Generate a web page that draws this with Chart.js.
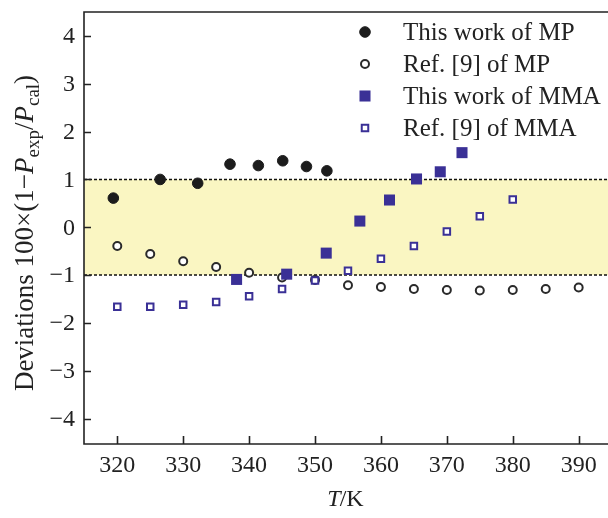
<!DOCTYPE html>
<html>
<head>
<meta charset="utf-8">
<script src="https://cdn.jsdelivr.net/npm/chart.js@4.4.1/dist/chart.umd.min.js"></script>
<style>
  html, body { margin: 0; padding: 0; background: #fff; }
  #wrap { width: 608px; height: 518px; position: relative; }
</style>
</head>
<body>
<div id="wrap"><canvas id="c" width="608" height="518"></canvas></div>
<script>
// ---- Data ----
const seriesLabels = ['This work of MP', 'Ref. [9] of MP', 'This work of MMA', 'Ref. [9] of MMA'];
const mpThisT   = [319.4, 326.5, 332.2, 337.1, 341.4, 345.1, 348.7, 351.8];
const mpThisDev = [0.61, 1.00, 0.92, 1.32, 1.29, 1.39, 1.27, 1.18];
const mpRefT    = [320, 325, 330, 335, 340, 345, 350, 355, 360, 365, 370, 375, 380, 385, 390];
const mpRefDev  = [-0.39, -0.56, -0.71, -0.83, -0.95, -1.05, -1.10, -1.21, -1.25, -1.29, -1.31, -1.32, -1.31, -1.29, -1.26];
const mmaThisT   = [338.1, 345.7, 351.7, 356.8, 361.3, 365.4, 369.0, 372.3];
const mmaThisDev = [-1.09, -0.98, -0.54, 0.13, 0.57, 1.01, 1.16, 1.56];
const mmaRefT    = [320, 325, 330, 335, 340, 345, 350, 355, 360, 365, 370, 375, 380];
const mmaRefDev  = [-1.66, -1.66, -1.62, -1.56, -1.44, -1.29, -1.11, -0.91, -0.66, -0.39, -0.09, 0.23, 0.58];
const xTicks = [320, 330, 340, 350, 360, 370, 380, 390];
const yTicks = [-4, -3, -2, -1, 0, 1, 2, 3, 4];
const bandLimits = [-1, 1];

const toPts = (xs, ys) => xs.map((x, i) => ({ x: x, y: ys[i] }));
const PURPLE = '#3a3096';
const DARK = '#1c1c1c';
const SERIF = '"Liberation Serif", "DejaVu Serif", serif';

const styles = [
  { pointStyle: 'circle', pointRadius: 5.3, backgroundColor: DARK, borderColor: DARK, borderWidth: 1 },
  { pointStyle: 'circle', pointRadius: 4, backgroundColor: '#ffffff', borderColor: '#2a2a2a', borderWidth: 2 },
  { pointStyle: 'rect', pointRadius: 7.8, backgroundColor: PURPLE, borderColor: PURPLE, borderWidth: 0 },
  { pointStyle: 'rect', pointRadius: 4.6, backgroundColor: '#ffffff', borderColor: PURPLE, borderWidth: 2 }
];
const dataSets = [toPts(mpThisT, mpThisDev), toPts(mpRefT, mpRefDev), toPts(mmaThisT, mmaThisDev), toPts(mmaRefT, mmaRefDev)];
const orders = [3, 4, 1, 2];

const datasets = dataSets.map((d, i) => Object.assign({
  label: seriesLabels[i],
  data: d,
  showLine: false,
  order: orders[i],
  clip: false,
  pointHoverRadius: styles[i].pointRadius
}, styles[i]));

const fmt = v => (v < 0 ? '\u2212' + Math.abs(v) : String(v));

const decor = {
  id: 'decor',
  beforeDatasetsDraw(chart) {
    const { ctx, chartArea: a, scales: { x, y } } = chart;
    const yTop = y.getPixelForValue(bandLimits[1]);
    const yBot = y.getPixelForValue(bandLimits[0]);
    ctx.save();
    ctx.fillStyle = '#faf6c2';
    ctx.fillRect(a.left, yTop, a.right - a.left, yBot - yTop);
    ctx.strokeStyle = '#111';
    ctx.lineWidth = 1.5;
    ctx.setLineDash([3, 2]);
    [yTop, yBot].forEach(py => {
      ctx.beginPath();
      ctx.moveTo(a.left, py);
      ctx.lineTo(a.right, py);
      ctx.stroke();
    });
    ctx.restore();
  },
  afterDraw(chart) {
    const { ctx, chartArea: a, scales: { x, y } } = chart;
    ctx.save();
    // frame: left, bottom, top
    ctx.strokeStyle = '#222';
    ctx.lineWidth = 1.6;
    ctx.beginPath();
    ctx.moveTo(a.right, a.top);
    ctx.lineTo(a.left, a.top);
    ctx.lineTo(a.left, a.bottom);
    ctx.lineTo(a.right, a.bottom);
    ctx.stroke();
    // inward ticks
    ctx.beginPath();
    xTicks.forEach(v => {
      const px = Math.round(x.getPixelForValue(v)) + 0.5;
      ctx.moveTo(px, a.bottom);
      ctx.lineTo(px, a.bottom - 8);
    });
    yTicks.forEach(v => {
      const py = Math.round(y.getPixelForValue(v)) + 0.5;
      ctx.moveTo(a.left, py);
      ctx.lineTo(a.left + 7, py);
    });
    ctx.stroke();

    // tick labels
    ctx.fillStyle = '#222';
    ctx.font = '24px ' + SERIF;
    ctx.textAlign = 'center';
    ctx.textBaseline = 'middle';
    xTicks.forEach(v => ctx.fillText(fmt(v), x.getPixelForValue(v), a.bottom + 22));
    ctx.textAlign = 'right';
    yTicks.forEach(v => ctx.fillText(fmt(v), a.left - 9, y.getPixelForValue(v) + 1));

    // legend
    const lx = 365, tx = 403, ly0 = 32, dy = 32;
    chart.data.datasets.forEach((ds, i) => {
      const ly = ly0 + i * dy;
      ctx.fillStyle = ds.backgroundColor;
      ctx.strokeStyle = ds.borderColor;
      ctx.lineWidth = ds.borderWidth;
      ctx.beginPath();
      if (ds.pointStyle === 'circle') {
        ctx.arc(lx, ly, ds.pointRadius, 0, Math.PI * 2);
      } else {
        const s = Math.SQRT1_2 * ds.pointRadius;
        ctx.rect(lx - s, ly - s, 2 * s, 2 * s);
      }
      ctx.fill();
      if (ds.borderWidth) ctx.stroke();
      ctx.fillStyle = '#222';
      ctx.font = '25px ' + SERIF;
      ctx.textAlign = 'left';
      ctx.textBaseline = 'middle';
      ctx.fillText(ds.label, tx, ly + 1);
    });

    // x-axis title: T/K (T italic)
    ctx.fillStyle = '#222';
    ctx.textBaseline = 'alphabetic';
    ctx.textAlign = 'left';
    const f1 = 'italic 24px ' + SERIF, f0 = '24px ' + SERIF;
    ctx.font = f1; const wT = ctx.measureText('T').width;
    ctx.font = f0; const wK = ctx.measureText('/K').width;
    const cx = (a.left + a.right) / 2;
    const sx = cx - (wT + wK) / 2;
    ctx.font = f1; ctx.fillText('T', sx, 506);
    ctx.font = f0; ctx.fillText('/K', sx + wT - 1, 506);

    // y-axis title with sub-scripts
    const g0 = '27px ' + SERIF, g1 = 'italic 27px ' + SERIF, gs = '19px ' + SERIF;
    const parts = [
      { t: 'Deviations 100\u00d7(1\u2212', f: g0, dy: 0 },
      { t: 'P', f: g1, dy: 0 },
      { t: 'exp', f: gs, dy: 6 },
      { t: '/', f: g0, dy: 0 },
      { t: 'P', f: g1, dy: 0 },
      { t: 'cal', f: gs, dy: 6 },
      { t: ')', f: g0, dy: 0 }
    ];
    let total = 0;
    parts.forEach(p => { ctx.font = p.f; p.w = ctx.measureText(p.t).width; total += p.w; });
    ctx.translate(33, 233);
    ctx.rotate(-Math.PI / 2);
    let px = -total / 2;
    parts.forEach(p => {
      ctx.font = p.f;
      ctx.fillText(p.t, px, p.dy);
      px += p.w;
    });
    ctx.restore();
  }
};

new Chart(document.getElementById('c'), {
  type: 'scatter',
  data: { datasets: datasets },
  options: {
    responsive: false,
    animation: false,
    devicePixelRatio: 1,
    layout: { autoPadding: false, padding: { top: 12, right: 0, left: 0, bottom: 0 } },
    plugins: { legend: { display: false }, tooltip: { enabled: false } },
    scales: {
      x: {
        type: 'linear',
        min: 314.95,
        max: 394.45,
        afterBuildTicks: s => { s.ticks = xTicks.map(v => ({ value: v })); },
        afterFit: s => { s.height = 74; s.paddingLeft = 0; s.paddingRight = 0; },
        grid: { display: false, drawTicks: false },
        border: { display: false },
        ticks: { display: false }
      },
      y: {
        type: 'linear',
        min: -4.53,
        max: 4.5,
        afterBuildTicks: s => { s.ticks = yTicks.map(v => ({ value: v })); },
        afterFit: s => { s.width = 84; s.paddingTop = 0; s.paddingBottom = 0; },
        grid: { display: false, drawTicks: false },
        border: { display: false },
        ticks: { display: false }
      }
    }
  },
  plugins: [decor]
});
</script>
</body>
</html>
